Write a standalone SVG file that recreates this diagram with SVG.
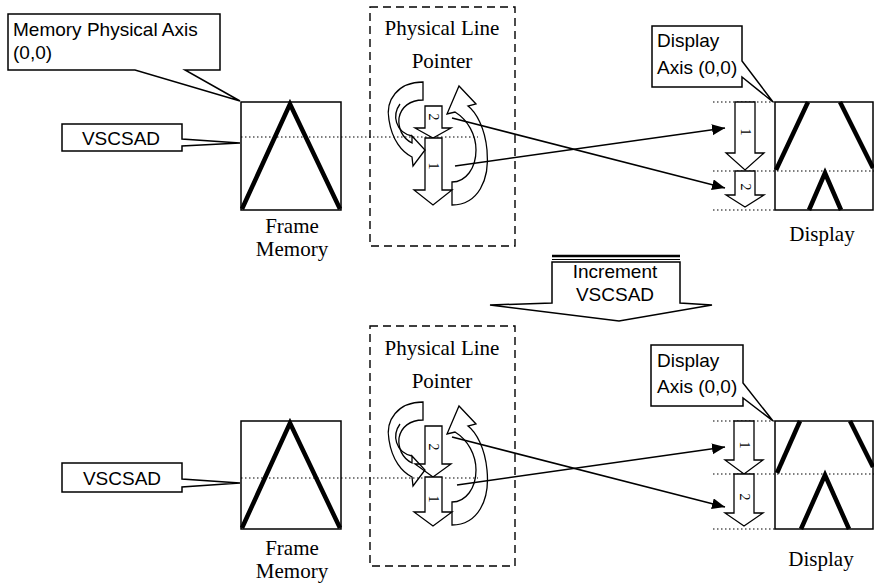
<svg xmlns="http://www.w3.org/2000/svg" width="874" height="587" viewBox="0 0 874 587">
<style>
.sans{font-family:"Liberation Sans",Arial,sans-serif;font-size:19px;fill:#000}
.serif{font-family:"Liberation Serif","Times New Roman",serif;font-size:21px;fill:#000}
.num{font-family:"Liberation Serif","Times New Roman",serif;font-size:14px;fill:#000}
.box{fill:#fff;stroke:#000;stroke-width:1.5}
.thin{fill:#fff;stroke:#000;stroke-width:1.3}
.curve{fill:none;stroke:#000;stroke-width:1.3}
.dash{fill:none;stroke:#000;stroke-width:1.4;stroke-dasharray:8,5}
.dot{fill:none;stroke:#000;stroke-width:1.2;stroke-dasharray:1.5,2.5}
.thick{fill:none;stroke:#000;stroke-width:4.5;stroke-linejoin:miter}
.conn{fill:none;stroke:#000;stroke-width:1.5}
</style>
<defs>
<marker id="ah" markerUnits="userSpaceOnUse" markerWidth="14" markerHeight="12" refX="13" refY="5.5" orient="auto">
<path d="M0,0 L13,5.5 L0,11 Z" fill="#000"/>
</marker>
</defs>
<rect width="874" height="587" fill="#fff"/>

<!-- dotted guide lines -->
<g id="guides">
<line class="dot" x1="241" y1="137" x2="478" y2="137"/>
<line class="dot" x1="713" y1="102" x2="775" y2="102"/>
<line class="dot" x1="713" y1="171" x2="874" y2="171"/>
<line class="dot" x1="713" y1="210" x2="775" y2="210"/>
<line class="dot" x1="241" y1="478" x2="478" y2="478"/>
<line class="dot" x1="713" y1="421" x2="775" y2="421"/>
<line class="dot" x1="713" y1="474" x2="874" y2="474"/>
<line class="dot" x1="713" y1="529" x2="775" y2="529"/>
</g>

<!-- TOP SECTION -->
<g id="memory-axis-callout">
<path class="box" d="M8,14 H220 V70 H185 L240,101 L135,70 H8 Z"/>
<text class="sans" x="13" y="36">Memory Physical Axis</text>
<text class="sans" x="13" y="59">(0,0)</text>
</g>
<g id="vscsad-top">
<path class="box" d="M62,124 H182 V139 L240,143 L182,146 V151 H62 Z"/>
<text class="sans" x="121" y="145" text-anchor="middle">VSCSAD</text>
</g>
<g id="frame-memory-top">
<rect x="241" y="102" width="100" height="108" fill="none" stroke="#000" stroke-width="1.5"/>
<path class="thick" d="M242,209 L290,104 L340,209"/>
<text class="serif" x="292" y="233" text-anchor="middle">Frame</text>
<text class="serif" x="292" y="256" text-anchor="middle">Memory</text>
</g>
<g id="pointer-top">
<rect class="dash" x="370" y="7" width="145" height="239"/>
<text class="serif" x="442" y="35" text-anchor="middle">Physical Line</text>
<text class="serif" x="442" y="68" text-anchor="middle">Pointer</text>
<path class="thin" d="M425,106 H442 V128 H451 L433,138 L415,128 H425 Z"/>
<path class="thin" d="M425,138 H442 V190 H452 L433,205 L414,190 H425 Z"/>
<text class="num" transform="translate(429,117) rotate(90)" text-anchor="middle">2</text>
<text class="num" transform="translate(429,166) rotate(90)" text-anchor="middle">1</text>
<path class="curve" d="M423,82 C398,82 385,100 389,120 C392,140 402,152 412,157 L413,166 L425,150 L412,136 L412,143 C402,138 398,128 399,118 C401,107 410,100 423,100 Z"/>
<path class="curve" d="M400,104 C392,115 395,132 412,136"/>
<path class="curve" d="M452,205 C478,205 490,180 487,150 C485,128 476,112 468,106 L476,104 L459,86 L447,114 L455,112 C468,120 476,135 476,150 C476,168 466,182 452,182 Z"/>
</g>
<g id="display-axis-callout-top">
<path class="box" d="M652,26 H742 V61 L773,102 L742,77 V87 H652 Z"/>
<text class="sans" x="657" y="47">Display</text>
<text class="sans" x="657" y="74">Axis (0,0)</text>
</g>
<g id="display-top">
<rect x="775" y="102" width="98" height="108" fill="none" stroke="#000" stroke-width="1.5"/>
<path class="thick" d="M808,102 L776,170"/>
<path class="thick" d="M840,102 L873,168"/>
<path class="thick" d="M809,210 L825,173 L841,210"/>
<path class="thin" d="M735,102 H755 V153 H764 L745,170 L726,153 H735 Z"/>
<path class="thin" d="M735,171 H755 V195 H764 L745,207 L726,195 H735 Z"/>
<text class="num" transform="translate(741,132) rotate(90)" text-anchor="middle">1</text>
<text class="num" transform="translate(741,187) rotate(90)" text-anchor="middle">2</text>
<text class="serif" x="822" y="241" text-anchor="middle">Display</text>
</g>

<!-- INCREMENT -->
<g id="increment">
<path class="box" d="M552,262 V303 L490,305 L619,321 L712,305 L680,303 V262 Z"/>
<line x1="552" y1="256" x2="680" y2="256" stroke="#000" stroke-width="2.5"/>
<line x1="552" y1="259.5" x2="680" y2="259.5" stroke="#000" stroke-width="1"/>
<text class="sans" x="615" y="278" text-anchor="middle">Increment</text>
<text class="sans" x="615" y="301" text-anchor="middle">VSCSAD</text>
</g>

<!-- BOTTOM SECTION -->
<g id="vscsad-bottom">
<path class="box" d="M62,463 H182 V479 L240,483 L182,487 V492 H62 Z"/>
<text class="sans" x="122" y="485" text-anchor="middle">VSCSAD</text>
</g>
<g id="frame-memory-bottom">
<rect x="241" y="421" width="100" height="108" fill="none" stroke="#000" stroke-width="1.5"/>
<path class="thick" d="M242,528 L290,423 L340,528"/>
<text class="serif" x="292" y="555" text-anchor="middle">Frame</text>
<text class="serif" x="292" y="578" text-anchor="middle">Memory</text>
</g>
<g id="pointer-bottom">
<rect class="dash" x="370" y="326" width="145" height="240"/>
<text class="serif" x="442" y="355" text-anchor="middle">Physical Line</text>
<text class="serif" x="442" y="388" text-anchor="middle">Pointer</text>
<path class="thin" d="M425,426 H442 V464 H451 L433,477 L415,464 H425 Z"/>
<path class="thin" d="M425,477 H442 V512 H452 L433,526 L414,512 H425 Z"/>
<text class="num" transform="translate(429,447) rotate(90)" text-anchor="middle">2</text>
<text class="num" transform="translate(429,499) rotate(90)" text-anchor="middle">1</text>
<path class="curve" d="M423,402 C398,402 385,420 389,440 C392,460 402,472 412,477 L413,486 L425,470 L412,456 L412,463 C402,458 398,448 399,438 C401,427 410,420 423,420 Z"/>
<path class="curve" d="M400,424 C392,435 395,452 412,456"/>
<path class="curve" d="M452,525 C478,525 490,500 487,470 C485,448 476,432 468,426 L476,424 L459,406 L447,434 L455,432 C468,440 476,455 476,470 C476,488 466,502 452,502 Z"/>
</g>
<g id="display-axis-callout-bottom">
<path class="box" d="M651,345 H743 V383 L773,421 L743,398 V406 H651 Z"/>
<text class="sans" x="657" y="367">Display</text>
<text class="sans" x="657" y="393">Axis (0,0)</text>
</g>
<g id="display-bottom">
<rect x="775" y="421" width="98" height="108" fill="none" stroke="#000" stroke-width="1.5"/>
<path class="thick" d="M800,421 L777,473"/>
<path class="thick" d="M850,421 L873,467"/>
<path class="thick" d="M801,529 L825,475 L849,529"/>
<path class="thin" d="M734,421 H754 V460 H763 L744,474 L725,460 H734 Z"/>
<path class="thin" d="M734,474 H754 V513 H763 L744,526 L725,513 H734 Z"/>
<text class="num" transform="translate(740,445) rotate(90)" text-anchor="middle">1</text>
<text class="num" transform="translate(740,497) rotate(90)" text-anchor="middle">2</text>
<text class="serif" x="821" y="566" text-anchor="middle">Display</text>
</g>

<!-- connectors -->
<g id="connectors">
<line class="conn" x1="455" y1="166" x2="725" y2="128" marker-end="url(#ah)"/>
<line class="conn" x1="452" y1="118" x2="725" y2="188" marker-end="url(#ah)"/>
<line class="conn" x1="457" y1="485" x2="725" y2="447" marker-end="url(#ah)"/>
<line class="conn" x1="452" y1="437" x2="725" y2="507" marker-end="url(#ah)"/>
</g>
</svg>
